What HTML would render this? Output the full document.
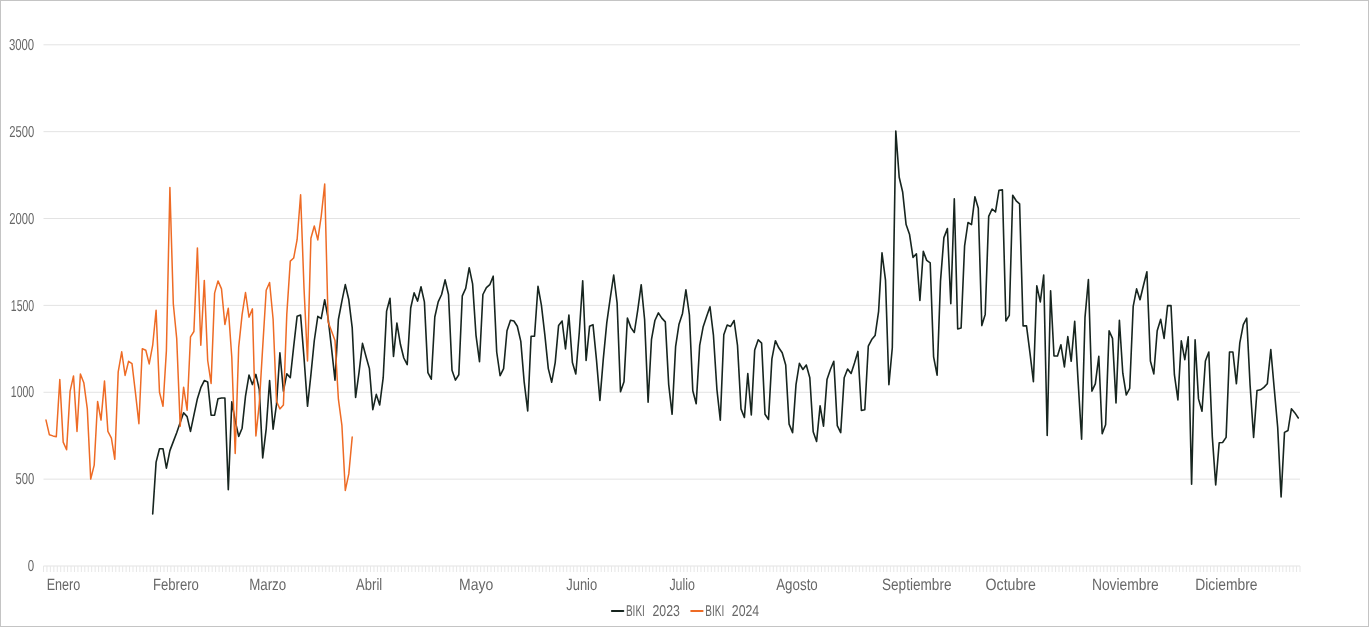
<!DOCTYPE html>
<html lang="es"><head><meta charset="utf-8"><title>BIKI 2023 / BIKI 2024</title>
<style>html,body{margin:0;padding:0;background:#fff}body{width:1369px;height:627px;overflow:hidden}svg{display:block;will-change:transform}text{font-family:"Liberation Sans",sans-serif;fill:#676767;text-rendering:geometricPrecision}</style></head><body>
<svg width="1369" height="627" viewBox="0 0 1369 627">
<rect x="0" y="0" width="1369" height="627" fill="#ffffff"/>
<rect x="0.5" y="0.5" width="1368" height="626" fill="none" stroke="#c4c4c4" stroke-width="1"/>
<line x1="43.5" y1="566.00" x2="1300.0" y2="566.00" stroke="#e3e3e3" stroke-width="1"/>
<line x1="43.5" y1="479.13" x2="1300.0" y2="479.13" stroke="#e3e3e3" stroke-width="1"/>
<line x1="43.5" y1="392.27" x2="1300.0" y2="392.27" stroke="#e3e3e3" stroke-width="1"/>
<line x1="43.5" y1="305.40" x2="1300.0" y2="305.40" stroke="#e3e3e3" stroke-width="1"/>
<line x1="43.5" y1="218.53" x2="1300.0" y2="218.53" stroke="#e3e3e3" stroke-width="1"/>
<line x1="43.5" y1="131.67" x2="1300.0" y2="131.67" stroke="#e3e3e3" stroke-width="1"/>
<line x1="43.5" y1="44.80" x2="1300.0" y2="44.80" stroke="#e3e3e3" stroke-width="1"/>
<path d="M43.50 566.0V572.0M46.94 566.0V572.0M50.38 566.0V572.0M53.83 566.0V572.0M57.27 566.0V572.0M60.71 566.0V572.0M64.15 566.0V572.0M67.60 566.0V572.0M71.04 566.0V572.0M74.48 566.0V572.0M77.92 566.0V572.0M81.37 566.0V572.0M84.81 566.0V572.0M88.25 566.0V572.0M91.69 566.0V572.0M95.14 566.0V572.0M98.58 566.0V572.0M102.02 566.0V572.0M105.46 566.0V572.0M108.91 566.0V572.0M112.35 566.0V572.0M115.79 566.0V572.0M119.23 566.0V572.0M122.68 566.0V572.0M126.12 566.0V572.0M129.56 566.0V572.0M133.00 566.0V572.0M136.45 566.0V572.0M139.89 566.0V572.0M143.33 566.0V572.0M146.77 566.0V572.0M150.22 566.0V572.0M153.66 566.0V572.0M157.10 566.0V572.0M160.54 566.0V572.0M163.99 566.0V572.0M167.43 566.0V572.0M170.87 566.0V572.0M174.31 566.0V572.0M177.76 566.0V572.0M181.20 566.0V572.0M184.64 566.0V572.0M188.08 566.0V572.0M191.53 566.0V572.0M194.97 566.0V572.0M198.41 566.0V572.0M201.85 566.0V572.0M205.30 566.0V572.0M208.74 566.0V572.0M212.18 566.0V572.0M215.62 566.0V572.0M219.07 566.0V572.0M222.51 566.0V572.0M225.95 566.0V572.0M229.39 566.0V572.0M232.84 566.0V572.0M236.28 566.0V572.0M239.72 566.0V572.0M243.16 566.0V572.0M246.61 566.0V572.0M250.05 566.0V572.0M253.49 566.0V572.0M256.93 566.0V572.0M260.38 566.0V572.0M263.82 566.0V572.0M267.26 566.0V572.0M270.70 566.0V572.0M274.15 566.0V572.0M277.59 566.0V572.0M281.03 566.0V572.0M284.47 566.0V572.0M287.92 566.0V572.0M291.36 566.0V572.0M294.80 566.0V572.0M298.24 566.0V572.0M301.68 566.0V572.0M305.13 566.0V572.0M308.57 566.0V572.0M312.01 566.0V572.0M315.45 566.0V572.0M318.90 566.0V572.0M322.34 566.0V572.0M325.78 566.0V572.0M329.22 566.0V572.0M332.67 566.0V572.0M336.11 566.0V572.0M339.55 566.0V572.0M342.99 566.0V572.0M346.44 566.0V572.0M349.88 566.0V572.0M353.32 566.0V572.0M356.76 566.0V572.0M360.21 566.0V572.0M363.65 566.0V572.0M367.09 566.0V572.0M370.53 566.0V572.0M373.98 566.0V572.0M377.42 566.0V572.0M380.86 566.0V572.0M384.30 566.0V572.0M387.75 566.0V572.0M391.19 566.0V572.0M394.63 566.0V572.0M398.07 566.0V572.0M401.52 566.0V572.0M404.96 566.0V572.0M408.40 566.0V572.0M411.84 566.0V572.0M415.29 566.0V572.0M418.73 566.0V572.0M422.17 566.0V572.0M425.61 566.0V572.0M429.06 566.0V572.0M432.50 566.0V572.0M435.94 566.0V572.0M439.38 566.0V572.0M442.83 566.0V572.0M446.27 566.0V572.0M449.71 566.0V572.0M453.15 566.0V572.0M456.60 566.0V572.0M460.04 566.0V572.0M463.48 566.0V572.0M466.92 566.0V572.0M470.37 566.0V572.0M473.81 566.0V572.0M477.25 566.0V572.0M480.69 566.0V572.0M484.14 566.0V572.0M487.58 566.0V572.0M491.02 566.0V572.0M494.46 566.0V572.0M497.91 566.0V572.0M501.35 566.0V572.0M504.79 566.0V572.0M508.23 566.0V572.0M511.68 566.0V572.0M515.12 566.0V572.0M518.56 566.0V572.0M522.00 566.0V572.0M525.45 566.0V572.0M528.89 566.0V572.0M532.33 566.0V572.0M535.77 566.0V572.0M539.22 566.0V572.0M542.66 566.0V572.0M546.10 566.0V572.0M549.54 566.0V572.0M552.98 566.0V572.0M556.43 566.0V572.0M559.87 566.0V572.0M563.31 566.0V572.0M566.75 566.0V572.0M570.20 566.0V572.0M573.64 566.0V572.0M577.08 566.0V572.0M580.52 566.0V572.0M583.97 566.0V572.0M587.41 566.0V572.0M590.85 566.0V572.0M594.29 566.0V572.0M597.74 566.0V572.0M601.18 566.0V572.0M604.62 566.0V572.0M608.06 566.0V572.0M611.51 566.0V572.0M614.95 566.0V572.0M618.39 566.0V572.0M621.83 566.0V572.0M625.28 566.0V572.0M628.72 566.0V572.0M632.16 566.0V572.0M635.60 566.0V572.0M639.05 566.0V572.0M642.49 566.0V572.0M645.93 566.0V572.0M649.37 566.0V572.0M652.82 566.0V572.0M656.26 566.0V572.0M659.70 566.0V572.0M663.14 566.0V572.0M666.59 566.0V572.0M670.03 566.0V572.0M673.47 566.0V572.0M676.91 566.0V572.0M680.36 566.0V572.0M683.80 566.0V572.0M687.24 566.0V572.0M690.68 566.0V572.0M694.13 566.0V572.0M697.57 566.0V572.0M701.01 566.0V572.0M704.45 566.0V572.0M707.90 566.0V572.0M711.34 566.0V572.0M714.78 566.0V572.0M718.22 566.0V572.0M721.67 566.0V572.0M725.11 566.0V572.0M728.55 566.0V572.0M731.99 566.0V572.0M735.44 566.0V572.0M738.88 566.0V572.0M742.32 566.0V572.0M745.76 566.0V572.0M749.21 566.0V572.0M752.65 566.0V572.0M756.09 566.0V572.0M759.53 566.0V572.0M762.98 566.0V572.0M766.42 566.0V572.0M769.86 566.0V572.0M773.30 566.0V572.0M776.75 566.0V572.0M780.19 566.0V572.0M783.63 566.0V572.0M787.07 566.0V572.0M790.52 566.0V572.0M793.96 566.0V572.0M797.40 566.0V572.0M800.84 566.0V572.0M804.28 566.0V572.0M807.73 566.0V572.0M811.17 566.0V572.0M814.61 566.0V572.0M818.05 566.0V572.0M821.50 566.0V572.0M824.94 566.0V572.0M828.38 566.0V572.0M831.82 566.0V572.0M835.27 566.0V572.0M838.71 566.0V572.0M842.15 566.0V572.0M845.59 566.0V572.0M849.04 566.0V572.0M852.48 566.0V572.0M855.92 566.0V572.0M859.36 566.0V572.0M862.81 566.0V572.0M866.25 566.0V572.0M869.69 566.0V572.0M873.13 566.0V572.0M876.58 566.0V572.0M880.02 566.0V572.0M883.46 566.0V572.0M886.90 566.0V572.0M890.35 566.0V572.0M893.79 566.0V572.0M897.23 566.0V572.0M900.67 566.0V572.0M904.12 566.0V572.0M907.56 566.0V572.0M911.00 566.0V572.0M914.44 566.0V572.0M917.89 566.0V572.0M921.33 566.0V572.0M924.77 566.0V572.0M928.21 566.0V572.0M931.66 566.0V572.0M935.10 566.0V572.0M938.54 566.0V572.0M941.98 566.0V572.0M945.43 566.0V572.0M948.87 566.0V572.0M952.31 566.0V572.0M955.75 566.0V572.0M959.20 566.0V572.0M962.64 566.0V572.0M966.08 566.0V572.0M969.52 566.0V572.0M972.97 566.0V572.0M976.41 566.0V572.0M979.85 566.0V572.0M983.29 566.0V572.0M986.74 566.0V572.0M990.18 566.0V572.0M993.62 566.0V572.0M997.06 566.0V572.0M1000.51 566.0V572.0M1003.95 566.0V572.0M1007.39 566.0V572.0M1010.83 566.0V572.0M1014.28 566.0V572.0M1017.72 566.0V572.0M1021.16 566.0V572.0M1024.60 566.0V572.0M1028.05 566.0V572.0M1031.49 566.0V572.0M1034.93 566.0V572.0M1038.37 566.0V572.0M1041.82 566.0V572.0M1045.26 566.0V572.0M1048.70 566.0V572.0M1052.14 566.0V572.0M1055.58 566.0V572.0M1059.03 566.0V572.0M1062.47 566.0V572.0M1065.91 566.0V572.0M1069.35 566.0V572.0M1072.80 566.0V572.0M1076.24 566.0V572.0M1079.68 566.0V572.0M1083.12 566.0V572.0M1086.57 566.0V572.0M1090.01 566.0V572.0M1093.45 566.0V572.0M1096.89 566.0V572.0M1100.34 566.0V572.0M1103.78 566.0V572.0M1107.22 566.0V572.0M1110.66 566.0V572.0M1114.11 566.0V572.0M1117.55 566.0V572.0M1120.99 566.0V572.0M1124.43 566.0V572.0M1127.88 566.0V572.0M1131.32 566.0V572.0M1134.76 566.0V572.0M1138.20 566.0V572.0M1141.65 566.0V572.0M1145.09 566.0V572.0M1148.53 566.0V572.0M1151.97 566.0V572.0M1155.42 566.0V572.0M1158.86 566.0V572.0M1162.30 566.0V572.0M1165.74 566.0V572.0M1169.19 566.0V572.0M1172.63 566.0V572.0M1176.07 566.0V572.0M1179.51 566.0V572.0M1182.96 566.0V572.0M1186.40 566.0V572.0M1189.84 566.0V572.0M1193.28 566.0V572.0M1196.73 566.0V572.0M1200.17 566.0V572.0M1203.61 566.0V572.0M1207.05 566.0V572.0M1210.50 566.0V572.0M1213.94 566.0V572.0M1217.38 566.0V572.0M1220.82 566.0V572.0M1224.27 566.0V572.0M1227.71 566.0V572.0M1231.15 566.0V572.0M1234.59 566.0V572.0M1238.04 566.0V572.0M1241.48 566.0V572.0M1244.92 566.0V572.0M1248.36 566.0V572.0M1251.81 566.0V572.0M1255.25 566.0V572.0M1258.69 566.0V572.0M1262.13 566.0V572.0M1265.58 566.0V572.0M1269.02 566.0V572.0M1272.46 566.0V572.0M1275.90 566.0V572.0M1279.35 566.0V572.0M1282.79 566.0V572.0M1286.23 566.0V572.0M1289.67 566.0V572.0M1293.12 566.0V572.0M1296.56 566.0V572.0M1300.00 566.0V572.0" stroke="#e7e7e7" stroke-width="1" fill="none"/>
<text x="8.9" y="49.9" font-size="15.8" textLength="25.3" lengthAdjust="spacingAndGlyphs">3000</text>
<text x="9.2" y="136.8" font-size="15.8" textLength="25.0" lengthAdjust="spacingAndGlyphs">2500</text>
<text x="9.2" y="223.7" font-size="15.8" textLength="25.0" lengthAdjust="spacingAndGlyphs">2000</text>
<text x="10.8" y="310.5" font-size="15.8" textLength="23.4" lengthAdjust="spacingAndGlyphs">1500</text>
<text x="10.8" y="397.4" font-size="15.8" textLength="23.4" lengthAdjust="spacingAndGlyphs">1000</text>
<text x="15.4" y="484.3" font-size="15.8" textLength="18.8" lengthAdjust="spacingAndGlyphs">500</text>
<text x="27.8" y="571.1" font-size="15.8" textLength="6.4" lengthAdjust="spacingAndGlyphs">0</text>
<text x="46.7" y="590.4" font-size="16.5" textLength="33.6" lengthAdjust="spacingAndGlyphs">Enero</text>
<text x="152.9" y="590.4" font-size="16.5" textLength="46.0" lengthAdjust="spacingAndGlyphs">Febrero</text>
<text x="249.2" y="590.4" font-size="16.5" textLength="37.0" lengthAdjust="spacingAndGlyphs">Marzo</text>
<text x="356.1" y="590.4" font-size="16.5" textLength="26.1" lengthAdjust="spacingAndGlyphs">Abril</text>
<text x="459.1" y="590.4" font-size="16.5" textLength="34.2" lengthAdjust="spacingAndGlyphs">Mayo</text>
<text x="566.2" y="590.4" font-size="16.5" textLength="31.0" lengthAdjust="spacingAndGlyphs">Junio</text>
<text x="669.4" y="590.4" font-size="16.5" textLength="25.6" lengthAdjust="spacingAndGlyphs">Julio</text>
<text x="776.2" y="590.4" font-size="16.5" textLength="41.6" lengthAdjust="spacingAndGlyphs">Agosto</text>
<text x="882.0" y="590.4" font-size="16.5" textLength="69.5" lengthAdjust="spacingAndGlyphs">Septiembre</text>
<text x="985.5" y="590.4" font-size="16.5" textLength="50.5" lengthAdjust="spacingAndGlyphs">Octubre</text>
<text x="1091.9" y="590.4" font-size="16.5" textLength="66.9" lengthAdjust="spacingAndGlyphs">Noviembre</text>
<text x="1195.2" y="590.4" font-size="16.5" textLength="62.3" lengthAdjust="spacingAndGlyphs">Diciembre</text>
<polyline points="152.7,513.9 156.1,462.1 159.5,448.7 163.0,448.7 166.4,468.2 169.9,450.6 173.3,441.6 176.7,432.7 180.2,422.5 183.6,412.8 187.1,416.6 190.5,431.4 193.9,415.2 197.4,398.7 200.8,387.7 204.3,380.6 207.7,382.0 211.1,415.2 214.6,415.2 218.0,398.7 221.5,398.0 224.9,398.0 228.3,489.6 231.8,401.8 235.2,420.9 238.7,436.4 242.1,428.2 245.5,396.1 249.0,375.1 252.4,384.6 255.9,374.4 259.3,389.7 262.7,457.9 266.2,428.8 269.6,380.6 273.1,429.1 276.5,404.4 279.9,352.8 283.4,391.1 286.8,373.9 290.3,377.7 293.7,346.4 297.1,316.3 300.6,315.1 304.0,357.5 307.5,406.3 310.9,374.9 314.3,340.5 317.8,316.3 321.2,318.6 324.7,299.7 328.1,318.1 331.6,348.8 335.0,380.1 338.4,319.5 341.9,301.1 345.3,284.6 348.8,299.8 352.2,327.6 355.6,397.5 359.1,371.8 362.5,343.4 366.0,356.5 369.4,368.6 372.8,409.6 376.3,394.4 379.7,404.9 383.2,377.7 386.6,311.1 390.0,298.3 393.5,356.5 396.9,323.1 400.4,344.3 403.8,358.0 407.2,364.6 410.7,308.0 414.1,292.9 417.6,301.1 421.0,286.8 424.4,301.9 427.9,372.6 431.3,379.2 434.8,317.0 438.2,301.9 441.6,294.5 445.1,279.9 448.5,294.5 452.0,370.2 455.4,380.1 458.8,374.7 462.3,295.8 465.7,288.4 469.2,267.7 472.6,283.9 476.0,335.3 479.5,361.7 482.9,294.5 486.4,287.7 489.8,284.7 493.2,276.2 496.7,352.0 500.1,375.6 503.6,368.6 507.0,330.8 510.5,320.2 513.9,321.0 517.3,326.2 520.8,341.4 524.2,382.2 527.7,411.0 531.1,336.2 534.5,336.2 538.0,286.3 541.4,305.1 544.9,335.3 548.3,368.6 551.7,382.2 555.2,362.6 558.6,325.4 562.1,321.0 565.5,349.0 568.9,315.0 572.4,362.6 575.8,374.0 579.3,332.3 582.7,280.7 586.1,360.5 589.6,326.2 593.0,324.7 596.5,360.1 599.9,400.4 603.3,358.9 606.8,322.6 610.2,298.3 613.7,275.0 617.1,302.8 620.5,391.7 624.0,381.7 627.4,318.1 630.9,327.6 634.3,332.5 637.7,310.4 641.2,284.7 644.6,319.5 648.1,402.3 651.5,339.3 654.9,320.5 658.4,312.9 661.8,318.1 665.3,321.9 668.7,384.6 672.1,414.3 675.6,346.7 679.0,324.2 682.5,313.4 685.9,289.8 689.4,315.0 692.8,390.7 696.2,403.7 699.7,345.4 703.1,327.1 706.6,316.5 710.0,306.8 713.4,334.8 716.9,389.3 720.3,420.1 723.8,334.8 727.2,325.0 730.6,326.4 734.1,320.5 737.5,345.4 741.0,408.9 744.4,417.5 747.8,373.5 751.3,415.0 754.7,349.9 758.2,339.8 761.6,343.1 765.0,414.3 768.5,419.5 771.9,358.9 775.4,340.7 778.8,347.8 782.2,352.8 785.7,365.0 789.1,424.1 792.6,432.6 796.0,384.6 799.4,363.4 802.9,369.5 806.3,365.0 809.8,377.7 813.2,431.7 816.6,441.4 820.1,405.8 823.5,426.1 827.0,379.6 830.4,369.5 833.8,361.3 837.3,425.6 840.7,432.6 844.2,377.8 847.6,369.0 851.1,373.5 854.5,362.9 857.9,351.4 861.4,410.5 864.8,409.8 868.3,346.2 871.7,339.6 875.1,335.6 878.6,311.3 882.0,252.9 885.5,280.2 888.9,384.6 892.3,347.8 895.8,131.1 899.2,177.2 902.7,192.3 906.1,224.6 909.5,234.2 913.0,257.4 916.4,253.8 919.9,300.5 923.3,251.4 926.7,260.4 930.2,262.8 933.6,356.8 937.1,375.1 940.5,281.1 943.9,237.6 947.4,228.6 950.8,303.8 954.3,198.9 957.7,328.9 961.1,328.0 964.6,245.8 968.0,222.5 971.5,224.6 974.9,196.8 978.3,208.3 981.8,325.6 985.2,314.4 988.7,216.4 992.1,209.0 995.5,211.9 999.0,190.2 1002.4,189.9 1005.9,321.0 1009.3,315.3 1012.7,195.3 1016.2,200.8 1019.6,203.8 1023.1,325.9 1026.5,325.9 1029.9,352.3 1033.4,381.7 1036.8,285.9 1040.3,301.9 1043.7,275.0 1047.2,435.5 1050.6,290.8 1054.0,356.0 1057.5,356.0 1060.9,344.7 1064.4,366.9 1067.8,336.5 1071.2,361.3 1074.7,321.4 1078.1,381.1 1081.6,439.2 1085.0,317.4 1088.4,279.5 1091.9,391.2 1095.3,383.9 1098.8,356.3 1102.2,433.8 1105.6,424.8 1109.1,330.8 1112.5,338.4 1116.0,402.9 1119.4,320.2 1122.8,373.2 1126.3,395.0 1129.7,388.3 1133.2,306.4 1136.6,288.9 1140.0,299.8 1143.5,285.2 1146.9,271.7 1150.4,361.0 1153.8,373.9 1157.2,330.8 1160.7,319.3 1164.1,338.4 1167.6,305.6 1171.0,305.6 1174.4,374.7 1177.9,399.9 1181.3,340.8 1184.8,359.6 1188.2,336.8 1191.6,484.3 1195.1,339.8 1198.5,398.9 1202.0,411.2 1205.4,361.0 1208.8,352.0 1212.3,436.6 1215.7,485.0 1219.2,442.8 1222.6,442.5 1226.1,437.4 1229.5,352.0 1232.9,352.0 1236.4,383.8 1239.8,342.9 1243.3,324.7 1246.7,318.1 1250.1,385.3 1253.6,437.4 1257.0,390.5 1260.5,389.8 1263.9,387.4 1267.3,383.8 1270.8,349.5 1274.2,388.3 1277.7,427.5 1281.1,496.9 1284.5,432.4 1288.0,430.5 1291.4,408.8 1294.9,412.9 1298.3,418.0" fill="none" stroke="#17251f" stroke-width="1.6" stroke-linejoin="round" stroke-linecap="round"/>
<polyline points="46.0,420.1 49.4,434.8 52.9,435.9 56.3,436.7 59.8,379.6 63.2,442.1 66.6,449.8 70.1,391.1 73.5,375.9 77.0,431.4 80.4,373.9 83.8,382.7 87.3,408.9 90.7,479.1 94.2,465.1 97.6,401.5 101.0,420.1 104.5,381.1 107.9,431.4 111.4,438.1 114.8,459.3 118.2,371.9 121.7,351.8 125.1,375.4 128.6,361.3 132.0,363.6 135.4,392.3 138.9,423.7 142.3,348.8 145.8,350.2 149.2,363.9 152.7,345.2 156.1,310.3 159.5,392.3 163.0,406.3 166.4,350.6 169.9,187.4 173.3,303.7 176.7,338.4 180.2,426.3 183.6,387.2 187.1,410.2 190.5,336.8 193.9,331.5 197.4,247.9 200.8,345.2 204.3,280.4 207.7,360.5 211.1,383.4 214.6,293.1 218.0,280.9 221.5,288.9 224.9,324.5 228.3,308.2 231.8,357.5 235.2,453.4 238.7,347.1 242.1,314.6 245.5,292.5 249.0,317.2 252.4,308.9 255.9,435.9 259.3,403.6 262.7,347.1 266.2,290.3 269.6,282.5 273.1,319.3 276.5,401.3 279.9,408.9 283.4,405.1 286.8,314.1 290.3,261.1 293.7,258.0 297.1,239.7 300.6,194.7 304.0,288.0 307.5,361.0 310.9,238.2 314.3,226.0 317.8,239.9 321.2,216.3 324.7,184.1 328.1,322.1 331.6,331.3 335.0,340.5 338.4,399.2 341.9,425.3 345.3,490.4 348.8,473.9 352.2,437.1" fill="none" stroke="#ee6b25" stroke-width="1.5" stroke-linejoin="round" stroke-linecap="round"/>
<line x1="611.9" y1="611.1" x2="623.3" y2="611.1" stroke="#17251f" stroke-width="2" stroke-linecap="round"/>
<text y="615.9" font-size="15.7"><tspan x="625.9" textLength="19.0" lengthAdjust="spacingAndGlyphs">BIKI</tspan> <tspan x="652.5" textLength="27.4" lengthAdjust="spacingAndGlyphs">2023</tspan></text>
<line x1="691.2" y1="611.1" x2="702.6" y2="611.1" stroke="#ee6b25" stroke-width="2" stroke-linecap="round"/>
<text y="615.9" font-size="15.7"><tspan x="705.2" textLength="19.0" lengthAdjust="spacingAndGlyphs">BIKI</tspan> <tspan x="731.8" textLength="27.4" lengthAdjust="spacingAndGlyphs">2024</tspan></text>
</svg></body></html>
